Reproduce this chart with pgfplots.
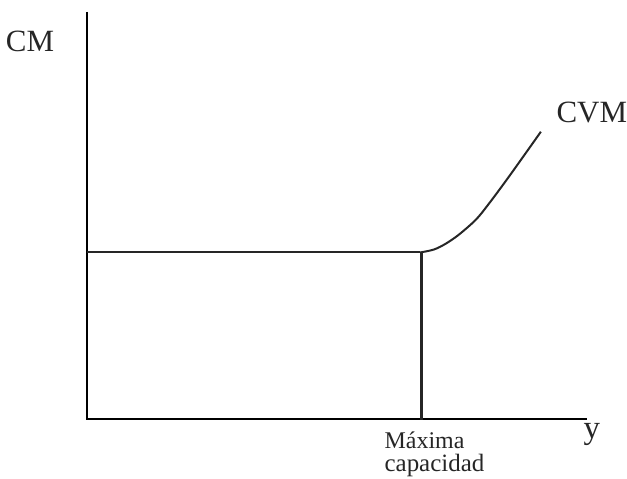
\documentclass[border=0pt]{standalone}
\usepackage{pgfplots}
\pgfplotsset{compat=1.18}
\usepackage{fontspec}
\setmainfont{Liberation Serif}
\begin{document}
\begin{tikzpicture}
\begin{axis}[
  scale only axis, width=313.5pt, height=239.5pt,
  xmin=0, xmax=627, ymin=0, ymax=479,
  hide axis, clip=false,
]
\path (axis cs:0,0) -- (axis cs:627,479);
\addplot[black, line width=1pt] coordinates {(87,467) (87,59) (588,59)};
\addplot[black!85, line width=1pt] coordinates {(87,226) (421,226)};
\addplot[black!85, line width=1.6pt] coordinates {(422,226) (422,58)};
\addplot[black!85, line width=1pt, smooth, tension=0.5] coordinates {(421,226) (435,229) (447,235) (460,244) (477,259) (490,275) (510,302) (542,347)};
\node[anchor=base, inner sep=0pt, font=\fontsize{15.5}{18}\selectfont, text=black!85] at (axis cs:30,427) {CM};
\node[anchor=base, inner sep=0pt, font=\fontsize{15.5}{18}\selectfont, text=black!85] at (axis cs:593,356) {CVM};
\node[anchor=base, inner sep=0pt, font=\fontsize{16.5}{18}\selectfont, text=black!85] at (axis cs:593,40) {y};
\node[anchor=base west, font=\fontsize{12}{13}\selectfont, text=black!85, inner sep=0pt] at (axis cs:385,30) {Máxima};
\node[anchor=base west, font=\fontsize{12.5}{13}\selectfont, text=black!85, inner sep=0pt] at (axis cs:385,7) {capacidad};
\end{axis}
\end{tikzpicture}
\end{document}
